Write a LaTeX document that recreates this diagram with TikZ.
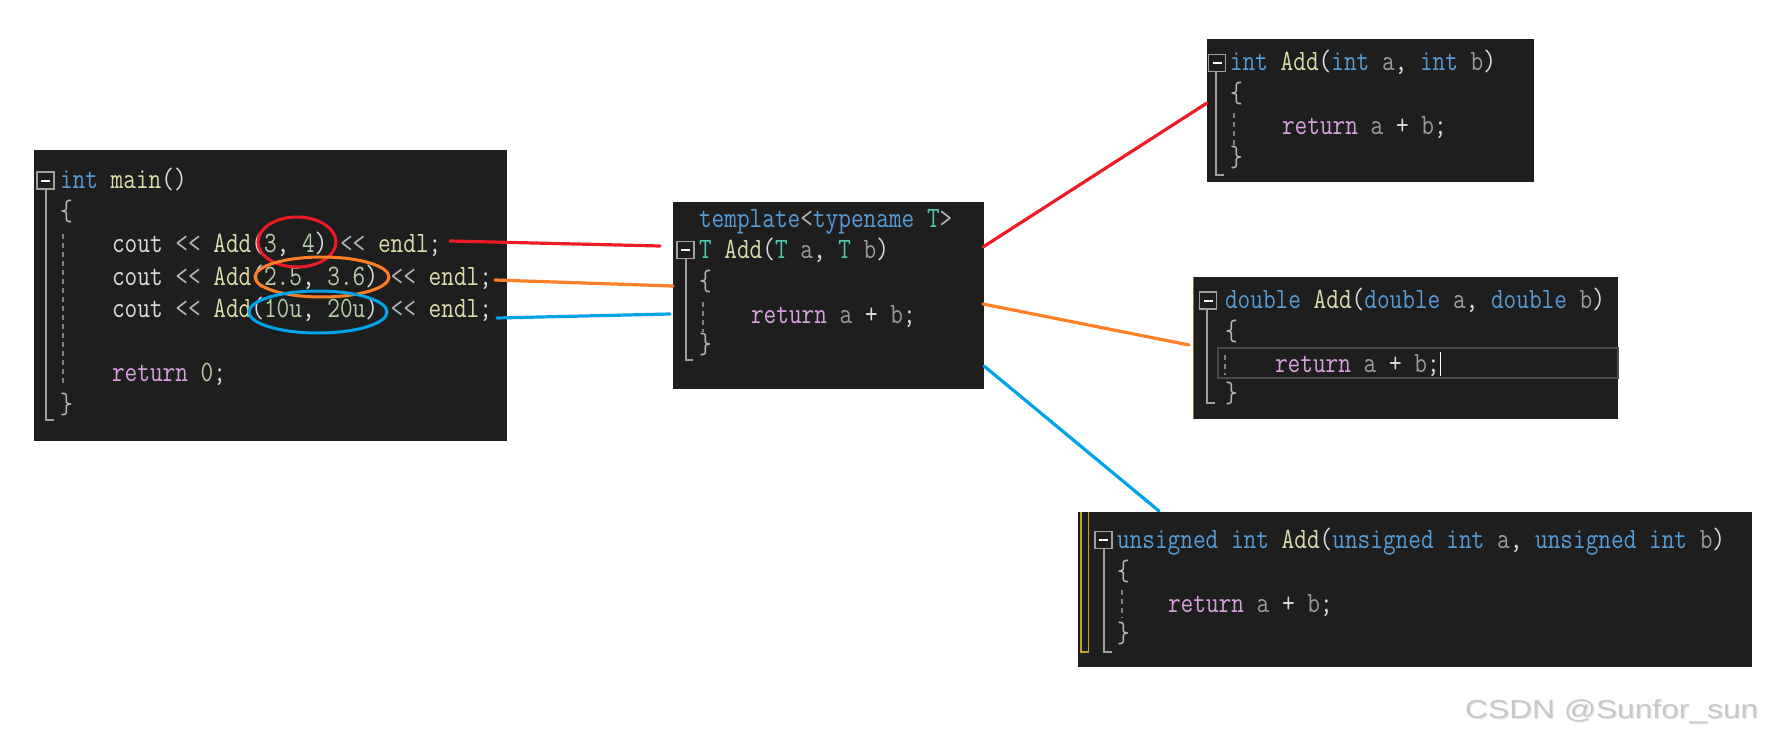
\documentclass[tikz,border=0pt]{standalone}
\usepackage{fontspec}
\usepackage{graphicx}
\usetikzlibrary{shapes.geometric}
\newfontfamily\wmfont{Liberation Sans}
\definecolor{bg}{HTML}{1E1E1E}
\definecolor{kwblue}{HTML}{569CD6}
\definecolor{fnyel}{HTML}{DCDCAA}
\definecolor{tyteal}{HTML}{4EC9B0}
\definecolor{parg}{HTML}{9A9A9A}
\definecolor{retp}{HTML}{D8A0DF}
\definecolor{numg}{HTML}{B5CEA8}
\definecolor{plaintxt}{HTML}{DCDCDC}
\definecolor{opg}{HTML}{B4B4B4}
\definecolor{guideg}{HTML}{A0A0A0}
\definecolor{dashg}{HTML}{808080}
\definecolor{lred}{HTML}{ED1C24}
\definecolor{lorange}{HTML}{FF7F27}
\definecolor{lblue}{HTML}{00A2E8}
\definecolor{goldbar}{HTML}{C9A227}
\definecolor{hlbox}{HTML}{4A4A4A}
\definecolor{wmgray}{HTML}{C8C8C8}
\definecolor{wmshade}{HTML}{E6E6E6}
\newcommand\codefont{\ttfamily\fontsize{24.6}{30}\selectfont}
\newcommand\cl[1]{\scalebox{1}[1.2]{#1}}
\newcommand\ckw[1]{\textcolor{kwblue}{#1}}
\newcommand\cfn[1]{\textcolor{fnyel}{#1}}
\newcommand\cty[1]{\textcolor{tyteal}{#1}}
\newcommand\cpa[1]{\textcolor{parg}{#1}}
\newcommand\cret[1]{\textcolor{retp}{#1}}
\newcommand\cnum[1]{\textcolor{numg}{#1}}
\newcommand\cop[1]{\textcolor{opg}{#1}}
\newcommand\shl{<\kern0pt<}
\tikzset{
  codebox/.style={rectangle, fill=bg, draw=none, inner sep=0pt, outer sep=0pt, anchor=north west},
  code/.style={anchor=base west, inner sep=0pt, outer sep=0pt, font=\codefont, text=plaintxt},
  foldbox/.style={rectangle, draw=guideg, line width=1.5pt, fill=bg, minimum size=17pt, inner sep=0pt,
    path picture={\draw[white, line width=2pt] ([xshift=4pt]path picture bounding box.west) -- ([xshift=-4pt]path picture bounding box.east);}},
  guide/.style={draw=guideg, line width=1.3pt},
  dguide/.style={draw=dashg, line width=1.3pt, dash pattern=on 5pt off 4pt},
  conn/.style={line width=3.2pt, line cap=round},
  ring/.style={ellipse, draw, line width=3pt, inner sep=0pt},
}
\begin{document}
\begin{tikzpicture}[x=1pt, y=-1pt]
\useasboundingbox[fill=white] (0,0) rectangle (1770,741);

% ---------- main ----------
\node[codebox, minimum width=473pt, minimum height=291pt] (mainbox) at (34,150) {};
\node[foldbox] (mfold) at (45.5,180.5) {};
\draw[guide] (46,190) |- (54,420);
\draw[dguide] (63,234) -- (63,383);
\node[code] (m1) at (60,188) {\cl{\ckw{int} \cfn{main}()}};
\node[code] (m2) at (60,220) {\cl{\cop{\{}}};
\node[code] (m3) at (112,252) {\cl{cout \cop{\shl} \cfn{Add}(\cnum{3}, \cnum{4}) \cop{\shl} \cfn{endl};}};
\node[code] (m4) at (112,285) {\cl{cout \cop{\shl} \cfn{Add}(\cnum{2.5}, \cnum{3.6}) \cop{\shl} \cfn{endl};}};
\node[code] (m5) at (112,317) {\cl{cout \cop{\shl} \cfn{Add}(\cnum{10u}, \cnum{20u}) \cop{\shl} \cfn{endl};}};
\node[code] (m6) at (112,381) {\cl{\cret{return} \cnum{0};}};
\node[code] (m7) at (60,413) {\cl{\cop{\}}}};

\node[ring, draw=lred, minimum width=78pt, minimum height=50pt] (e1) at (297,242) {};
\node[ring, draw=lorange, minimum width=134pt, minimum height=40pt] (e2) at (322,277) {};
\node[ring, draw=lblue, minimum width=138pt, minimum height=42pt] (e3) at (318,312) {};

% ---------- template ----------
\node[codebox, minimum width=311pt, minimum height=187pt] (tplbox) at (673,202) {};
\node[code] (t1) at (699,227) {\cl{\ckw{template}\cop{<}\ckw{typename} \cty{T}\cop{>}}};
\node[foldbox] (tfold) at (685.5,250) {};
\draw[guide] (686,259) |- (693,360);
\draw[dguide] (703,302) -- (703,332);
\node[code] (t2) at (699,258) {\cl{\cty{T} \cfn{Add}(\cty{T} \cpa{a}, \cty{T} \cpa{b})}};
\node[code] (t3) at (699,290) {\cl{\cop{\{}}};
\node[code] (t4) at (751,323) {\cl{\cret{return} \cpa{a} + \cpa{b};}};
\node[code] (t5) at (699,353) {\cl{\cop{\}}}};

% ---------- int ----------
\node[codebox, minimum width=327pt, minimum height=143pt] (intbox) at (1207,39) {};
\node[foldbox] (ifold) at (1217,63) {};
\draw[guide] (1216,72) |- (1224,175);
\draw[dguide] (1234,113) -- (1234,145);
\node[code] (i1) at (1230,71) {\cl{\ckw{int} \cfn{Add}(\ckw{int} \cpa{a}, \ckw{int} \cpa{b})}};
\node[code] (i2) at (1230,103) {\cl{\cop{\{}}};
\node[code] (i3) at (1282,135) {\cl{\cret{return} \cpa{a} + \cpa{b};}};
\node[code] (i4) at (1230,167) {\cl{\cop{\}}}};

% ---------- double ----------
\node[codebox, minimum width=425pt, minimum height=142pt] (dblbox) at (1193,277) {};
\draw[goldbar!70!black, line width=1pt] (dblbox.north west) -- (dblbox.south west);
\draw[hlbox, line width=2pt] (1218,348) rectangle (1618,378);
\node[foldbox] (dfold) at (1208,300.5) {};
\draw[guide] (1207,309) |- (1215,403);
\draw[dguide] (1225,355) -- (1225,375);
\node[code] (d1) at (1225,308) {\cl{\ckw{double} \cfn{Add}(\ckw{double} \cpa{a}, \ckw{double} \cpa{b})}};
\node[code] (d2) at (1225,340) {\cl{\cop{\{}}};
\node[code] (d3) at (1275,372) {\cl{\cret{return} \cpa{a} + \cpa{b};}};
\draw[white, line width=1.5pt] (d3.east |- 0,352) ++(1,0) -- ++(0,24);
\node[code] (d4) at (1225,402) {\cl{\cop{\}}}};

% ---------- unsigned ----------
\node[codebox, minimum width=674pt, minimum height=155pt] (unsbox) at (1078,512) {};
\draw[goldbar, line width=1.6pt] (1081,512) |- (1088.5,652) -- (1088.5,512);
\node[foldbox] (ufold) at (1103.5,540) {};
\draw[guide] (1104,549) |- (1112,652);
\draw[dguide] (1122,590) -- (1122,618);
\node[code] (u1) at (1117,548) {\cl{\ckw{unsigned} \ckw{int} \cfn{Add}(\ckw{unsigned} \ckw{int} \cpa{a}, \ckw{unsigned} \ckw{int} \cpa{b})}};
\node[code] (u2) at (1117,580) {\cl{\cop{\{}}};
\node[code] (u3) at (1168,612) {\cl{\cret{return} \cpa{a} + \cpa{b};}};
\node[code] (u4) at (1117,642) {\cl{\cop{\}}}};

% ---------- connectors ----------
\coordinate (r1a) at (450,241);  \coordinate (r1b) at (660,246);
\coordinate (o1a) at (495,280);  \coordinate (o1b) at (673,286);
\coordinate (b1a) at (497,318);  \coordinate (b1b) at (670,314);
\coordinate (r2a) at (983,247);  \coordinate (r2b) at (1207,103);
\coordinate (o2a) at (983,304);  \coordinate (o2b) at (1189,345);
\coordinate (b2a) at (984,366);  \coordinate (b2b) at (1159,511);
\draw[conn, lred] (r1a) -- (r1b);
\draw[conn, lorange] (o1a) -- (o1b);
\draw[conn, lblue] (b1a) -- (b1b);
\draw[conn, lred] (r2a) -- (r2b);
\draw[conn, lorange] (o2a) -- (o2b);
\draw[conn, lblue] (b2a) -- (b2b);

% ---------- watermark ----------
\node[anchor=base west, inner sep=0pt, text=wmshade, font=\wmfont\fontsize{26}{30}\selectfont] (wms) at (1466.2,719.2) {\scalebox{1.22}[1]{CSDN @Sunfor\_sun}};
\node[anchor=base west, inner sep=0pt, text=wmgray, font=\wmfont\fontsize{26}{30}\selectfont] (wm) at (1465,718) {\scalebox{1.22}[1]{CSDN @Sunfor\_sun}};
\end{tikzpicture}
\end{document}
